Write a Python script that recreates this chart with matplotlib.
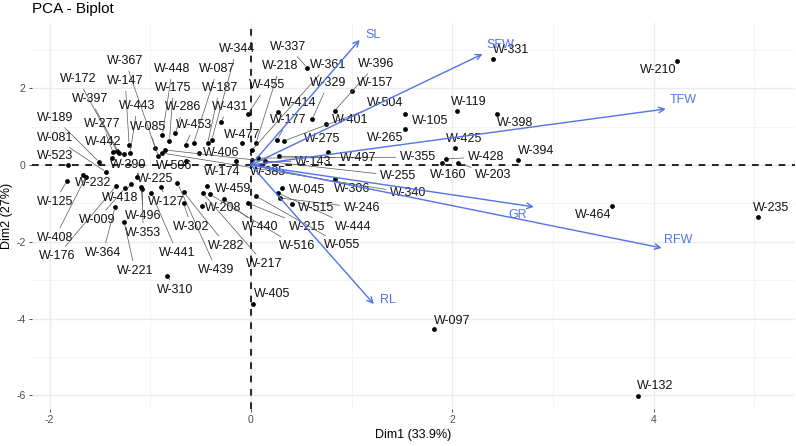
import matplotlib
matplotlib.use('Agg')
import matplotlib.pyplot as plt
import numpy as np

plt.rcParams['font.family'] = ['Liberation Sans', 'DejaVu Sans']

# ---------------- data ----------------
ind_names = ['W-523', 'W-189', 'W-081', 'W-232', 'W-125', 'W-408', 'W-176', 'W-009', 'W-418', 'W-225',
             'W-496', 'W-353', 'W-364', 'W-221', 'W-127', 'W-441', 'W-439', 'W-282', 'W-302', 'W-310',
             'W-459', 'W-208', 'W-217', 'W-516', 'W-440', 'W-215', 'W-055', 'W-045', 'W-444', 'W-246',
             'W-515', 'W-306', 'W-405', 'W-097', 'W-132', 'W-464', 'W-235', 'W-210', 'W-331', 'W-119',
             'W-398', 'W-105', 'W-265', 'W-425', 'W-428', 'W-160', 'W-203', 'W-394', 'W-355', 'W-255',
             'W-340', 'W-385', 'W-174', 'W-406', 'W-506', 'W-477', 'W-431', 'W-087', 'W-187', 'W-344',
             'W-455', 'W-218', 'W-367', 'W-448', 'W-147', 'W-175', 'W-172', 'W-397', 'W-443', 'W-286',
             'W-277', 'W-085', 'W-453', 'W-442', 'W-390', 'W-337', 'W-361', 'W-396', 'W-157', 'W-329',
             'W-414', 'W-504', 'W-177', 'W-401', 'W-275', 'W-497', 'W-143']

dim1 = [-1.82, -1.51, -1.44, -1.67, -1.83, -1.64, -1.34, -1.25, -1.19, -1.13,
        -1.09, -1.08, -1.35, -1.26, -0.89, -0.99, -0.73, -0.67, -0.67, -0.83,
        -0.44, -0.49, -0.48, -0.41, -0.27, -0.03, 0.05, 0.31, 0.27, 0.29,
        0.41, 0.83, 0.02, 1.82, 3.84, 3.59, 5.04, 4.23, 2.40, 2.05,
        2.44, 1.53, 1.53, 2.03, 1.94, 1.90, 2.06, 2.65, 0.07, -0.85,
        -0.88, 0.01, -0.15, -0.52, -0.65, -0.09, -0.30, -0.57, -0.43, -0.39,
        -0.03, 0.05, -0.95, -0.88, -1.21, -0.81, -1.33, -1.31, -1.20, -0.75,
        -1.37, -0.92, -0.65, -1.26, -1.38, 0.56, 0.01, 0.83, 1.00, 0.61,
        0.27, 0.33, 0.26, 0.75, 0.77, 0.28, 0.14]

dim2 = [0.00, 0.08, -0.18, -0.26, -0.42, -0.31, -0.55, -0.60, -0.49, -0.31,
        -0.57, -0.63, -1.09, -1.48, -0.57, -0.73, -0.47, -0.70, -0.99, -2.89,
        -0.55, -1.07, -0.73, -0.76, -0.89, -0.99, -0.81, -0.60, -0.73, -0.86,
        -1.02, -0.36, -3.62, -4.27, -6.02, -1.07, -1.35, 2.71, 2.76, 1.41,
        1.33, 1.33, 0.94, 0.44, 0.16, 0.05, 0.05, 0.13, 0.18, 0.39,
        0.31, 0.13, 0.10, 0.31, 0.10, 0.57, 1.12, 0.57, 0.57, 0.65,
        1.33, 0.57, 0.44, 0.78, 0.52, 0.63, 0.36, 0.31, 0.31, 0.83,
        0.34, 0.23, 0.52, 0.29, 0.18, 2.53, 0.39, 1.41, 1.93, 1.20,
        1.38, 0.63, 0.65, 1.07, 0.34, 0.23, 0.10]

var_names = ['SL', 'SFW', 'TFW', 'GR', 'RFW', 'RL']
var_dim1 = [1.08, 2.30, 4.12, 2.81, 4.08, 1.22]
var_dim2 = [3.26, 2.89, 1.46, -1.09, -2.16, -3.62]

title = 'PCA - Biplot'
xlabel = 'Dim1 (33.9%)'
ylabel = 'Dim2 (27%)'
x_ticks = [-2, 0, 2, 4]
y_ticks = [-6, -4, -2, 0, 2]

# ---------------- layout: repelled label offsets (pixels, +y up) ----------------
label_offsets = {
    'W-523': (-13, 9), 'W-189': (-44, 44), 'W-081': (-51, 34), 'W-232': (10, -8),
    'W-125': (-12, -21), 'W-408': (-31, -61), 'W-176': (-59, -70), 'W-009': (-28, -32),
    'W-418': (-11, -14), 'W-225': (18, -2), 'W-496': (2, -29), 'W-353': (1, -44),
    'W-364': (-12, -46), 'W-221': (11, -49), 'W-127': (5, -15), 'W-441': (26, -60),
    'W-439': (39, -87), 'W-282': (43, -54), 'W-302': (8, -24), 'W-310': (8, -14),
    'W-459': (26, -3), 'W-208': (21, -2), 'W-217': (62, -71), 'W-516': (87, -52),
    'W-440': (36, -28), 'W-215': (59, -24), 'W-055': (86, -49), 'W-045': (25, -2),
    'W-444': (75, -34), 'W-246': (82, -10), 'W-515': (24, -4), 'W-306': (18, -10),
    'W-405': (19, 10), 'W-097': (18, 8), 'W-132': (18, 10), 'W-464': (-19, -9),
    'W-235': (13, 9), 'W-210': (-19, -9), 'W-331': (18, 9), 'W-119': (11, 9),
    'W-398': (18, -9), 'W-105': (25, -7), 'W-265': (-20, -9), 'W-425': (9, 9),
    'W-428': (40, 2), 'W-160': (6, -12), 'W-203': (35, -12), 'W-394': (18, 9),
    'W-355': (160, 1), 'W-255': (233, -26), 'W-340': (246, -40), 'W-385': (16, -12),
    'W-174': (-14, -11), 'W-406': (23, 0), 'W-506': (-11, -5), 'W-477': (0, 8),
    'W-431': (9, 15), 'W-087': (24, 74), 'W-187': (12, 55), 'W-344': (25, 91),
    'W-455': (19, 29), 'W-218': (24, 77), 'W-367': (-30, 87), 'W-448': (10, 66),
    'W-147': (-4, 64), 'W-175': (4, 53), 'W-172': (-39, 72), 'W-397': (-29, 54),
    'W-443': (7, 47), 'W-286': (8, 26), 'W-277': (-11, 28), 'W-085': (-10, 29),
    'W-453': (9, 20), 'W-442': (-21, 12), 'W-390': (16, -7), 'W-337': (-19, 21),
    'W-361': (76, 85), 'W-396': (42, 47), 'W-157': (23, 8), 'W-329': (16, 36),
    'W-414': (20, 9), 'W-504': (101, 38), 'W-177': (11, 20), 'W-401': (24, 4),
    'W-275': (-6, 13), 'W-497': (79, -2), 'W-143': (48, -1),
}
var_label_offsets = {'SL': (13, 5), 'SFW': (18, 9), 'TFW': (17, 9),
                     'GR': (-16, -8), 'RFW': (16, 8), 'RL': (14, 4)}

VAR_COL = '#5173E6'
FS = 9

fig = plt.figure(figsize=(7.96, 4.46), dpi=100)
W, H = 796, 446
ax = fig.add_axes([32 / W, (H - 409) / H, (795 - 32) / W, (409 - 23) / H])

ax.set_xlim(-2.175, 5.404)
ax.set_ylim(-6.354, 3.698)

# grid (theme_minimal)
for v in x_ticks:
    ax.axvline(v, color='#EBEBEB', lw=1.0, zorder=0)
for v in [-1, 1, 3, 5]:
    ax.axvline(v, color='#F2F2F2', lw=0.6, zorder=0)
for v in y_ticks:
    ax.axhline(v, color='#EBEBEB', lw=1.0, zorder=0)
for v in [-5, -3, -1, 1, 3]:
    ax.axhline(v, color='#F2F2F2', lw=0.6, zorder=0)

for s in ax.spines.values():
    s.set_visible(False)

ax.axhline(0, color='black', lw=1.2, ls=(0, (4, 4)), zorder=1)
ax.axvline(0, color='black', lw=1.2, ls=(0, (4, 4)), zorder=1)

ax.set_xticks(x_ticks)
ax.set_yticks(y_ticks)
ax.set_xticklabels([str(t) for t in x_ticks])
ax.set_yticklabels([str(t) for t in y_ticks])
ax.tick_params(axis='both', length=2.5, width=0.6, color='#333333',
               labelcolor='#4D4D4D', labelsize=7.5, pad=2)

ax.set_xlabel(xlabel, fontsize=9)
ax.xaxis.set_label_coords(0.5, -20 / 386)
ax.set_ylabel(ylabel, fontsize=9)
ax.yaxis.set_label_coords(-19 / 763, 0.5)
fig.text(32 / W, 1 - 9 / H, title, fontsize=11, ha='left', va='center')

# individuals
ax.scatter(dim1, dim2, s=12, color='black', zorder=4, linewidths=0)

for name, x, y in zip(ind_names, dim1, dim2):
    dx, dy = label_offsets[name]
    far = abs(dx) > 28 or abs(dy) > 13
    kw = {}
    if far:
        kw['arrowprops'] = dict(arrowstyle='-', color='#555555', lw=0.5,
                                shrinkA=1, shrinkB=2)
    ax.annotate(name, xy=(x, y), xytext=(dx, dy), textcoords='offset pixels',
                ha='center', va='center', fontsize=FS, color='#111111',
                zorder=5, **kw)

# variables
for name, x, y in zip(var_names, var_dim1, var_dim2):
    ax.annotate('', xy=(x, y), xytext=(0, 0),
                arrowprops=dict(arrowstyle='->', color=VAR_COL, lw=1.0,
                                mutation_scale=10, shrinkA=0, shrinkB=0),
                zorder=6)
    dx, dy = var_label_offsets[name]
    ax.annotate(name, xy=(x, y), xytext=(dx, dy), textcoords='offset pixels',
                ha='center', va='center', fontsize=FS, color=VAR_COL, zorder=6)

fig.savefig('out.png', dpi=100)
